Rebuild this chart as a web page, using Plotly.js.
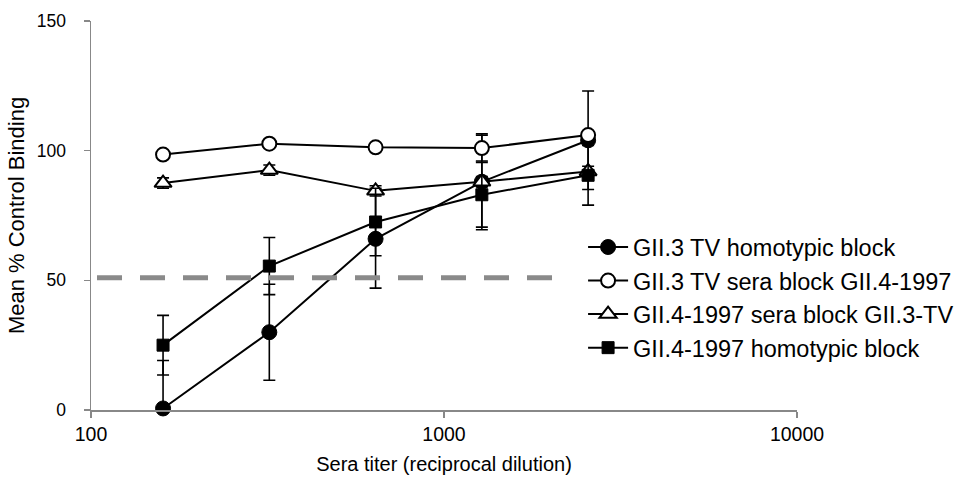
<!DOCTYPE html>
<html>
<head>
<meta charset="utf-8">
<script src="https://cdn.plot.ly/plotly-3.0.1.min.js"></script>
<style>html,body{margin:0;padding:0;background:#fff}#chart{width:972px;height:488px}</style>
</head>
<body>
<div id="chart"></div>
<script>
const titers = [160, 320, 640, 1280, 2560];
const seriesNames = [
  "GII.3 TV homotypic block",
  "GII.3 TV sera block GII.4-1997",
  "GII.4-1997 sera block GII.3-TV",
  "GII.4-1997 homotypic block"
];
const gii3Homotypic = [0.6, 30, 66, 88, 104];
const gii3HomotypicErr = [18.5, 18.5, 19, 18.5, 19];
const gii3BlockGii4 = [98.5, 102.7, 101.3, 101, 106];
const gii3BlockGii4Err = [1, 1, 1, 5, 1];
const gii4BlockGii3 = [87.5, 92.5, 84.5, 88, 92];
const gii4BlockGii3Err = [2, 2, 2, 2, 2];
const gii4Homotypic = [25, 55.5, 72.5, 83, 90.5];
const gii4HomotypicErr = [11.5, 11, 13, 12.5, 11.5];
const thresholdX = [104, 2040];
const thresholdY = [51, 51];
const xTickVals = [100, 1000, 10000];
const xTickText = ["100", "1000", "10000"];
const yTickVals = [0, 50, 100, 150];
const yRange = [0, 150];

const font = "Liberation Sans, Arial, sans-serif";
function errBar(arr) {
  return {type: "data", array: arr, visible: true, color: "#000", thickness: 1.6, width: 6};
}
const traces = [
  {x: titers, y: gii3Homotypic, name: seriesNames[0], mode: "lines+markers", legendgroup: "a",
   line: {color: "#000", width: 2}, error_y: errBar(gii3HomotypicErr),
   marker: {symbol: "circle", size: 15, color: "#000", line: {color: "#000", width: 1}}},
  {x: titers, y: gii3BlockGii4, name: seriesNames[1], mode: "lines+markers", legendgroup: "b",
   line: {color: "#000", width: 2}, error_y: errBar(gii3BlockGii4Err),
   marker: {symbol: "circle", size: 14, color: "#fff", line: {color: "#000", width: 2}}},
  {x: titers, y: gii4BlockGii3, name: seriesNames[2], mode: "lines+markers", legendgroup: "c",
   line: {color: "#000", width: 2}, error_y: errBar(gii4BlockGii3Err),
   marker: {symbol: "triangle-up", size: 15, color: "#fff", line: {color: "#000", width: 2}}},
  {x: titers, y: gii4Homotypic, name: seriesNames[3], mode: "lines+markers", legendgroup: "d",
   line: {color: "#000", width: 2}, error_y: errBar(gii4HomotypicErr),
   marker: {symbol: "square", size: 12, color: "#000", line: {color: "#000", width: 1}}},
  {x: thresholdX, y: thresholdY, yaxis: "y2", mode: "lines", showlegend: false, hoverinfo: "skip",
   line: {color: "#8a8a8a", width: 5, dash: "25px,18px"}}
];
const layout = {
  width: 972, height: 488,
  margin: {l: 91, r: 175, t: 21, b: 78, pad: 0},
  paper_bgcolor: "#fff", plot_bgcolor: "#fff",
  font: {family: font, color: "#000", size: 18},
  showlegend: true,
  legend: {x: 0.697, y: 0.475, xanchor: "left", yanchor: "top", font: {size: 23.5, family: font},
           bgcolor: "rgba(0,0,0,0)", tracegroupgap: 0, itemwidth: 40, traceorder: "normal"},
  xaxis: {
    type: "log", range: [2, 4], tickvals: xTickVals, ticktext: xTickText,
    showgrid: false, zeroline: false, showline: true, linecolor: "#888", linewidth: 1.5,
    ticks: "outside", ticklen: 6, tickcolor: "#888", tickwidth: 1.5,
    tickfont: {size: 19.5},
    title: {text: "Sera titer (reciprocal dilution)", font: {size: 20}, standoff: 13}
  },
  yaxis: {
    range: yRange, tickvals: yTickVals,
    showgrid: false, zeroline: false, showline: true, linecolor: "#888", linewidth: 1.5,
    ticks: "outside", ticklen: 20, tickcolor: "rgba(0,0,0,0)", tickwidth: 1.5,
    tickfont: {size: 17.5}
  },
  yaxis2: {
    overlaying: "y", anchor: "x", side: "left", range: yRange, tickvals: yTickVals,
    showgrid: false, zeroline: false, showline: false, showticklabels: false,
    ticks: "outside", ticklen: 6, tickcolor: "#888", tickwidth: 1.5,
    title: {text: "Mean % Control Binding", font: {size: 22}, standoff: 53}
  }
};
traces.forEach(t => { t.cliponaxis = false; });
Plotly.newPlot("chart", traces, layout, {displayModeBar: false, staticPlot: true});
</script>
</body>
</html>
